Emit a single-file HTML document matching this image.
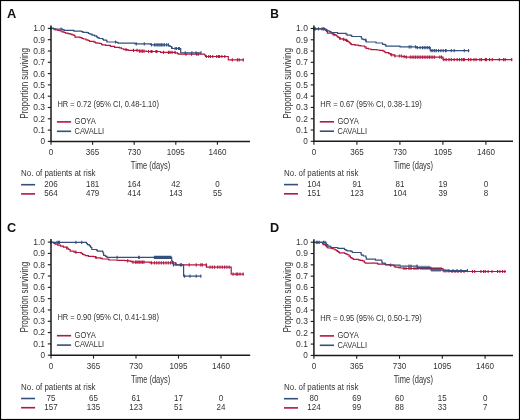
<!DOCTYPE html><html><head><meta charset="utf-8"><style>html,body{margin:0;padding:0;background:#fff;}svg{display:block;will-change:transform;}</style></head><body>
<svg width="520" height="420" viewBox="0 0 520 420" font-family='"Liberation Sans", sans-serif'>
<rect x="0" y="0" width="520" height="420" fill="#fff"/>
<text transform="translate(6.9 17.5) scale(1.07 1)" font-size="12" font-weight="bold" fill="#111">A</text>
<text transform="translate(27.6 83.4) rotate(-90)" text-anchor="middle" font-size="10.2" fill="#333333" textLength="70.5" lengthAdjust="spacingAndGlyphs">Proportion surviving</text>
<line x1="47.8" y1="141.4" x2="51" y2="141.4" stroke="#1a1a1a" stroke-width="1.1"/>
<text x="45" y="144.3" font-size="9.2" fill="#333333" text-anchor="end" textLength="4.6" lengthAdjust="spacingAndGlyphs">0</text>
<line x1="47.8" y1="130.1" x2="51" y2="130.1" stroke="#1a1a1a" stroke-width="1.1"/>
<text x="45" y="133" font-size="9.2" fill="#333333" text-anchor="end" textLength="11.8" lengthAdjust="spacingAndGlyphs">0.1</text>
<line x1="47.8" y1="118.8" x2="51" y2="118.8" stroke="#1a1a1a" stroke-width="1.1"/>
<text x="45" y="121.7" font-size="9.2" fill="#333333" text-anchor="end" textLength="11.8" lengthAdjust="spacingAndGlyphs">0.2</text>
<line x1="47.8" y1="107.5" x2="51" y2="107.5" stroke="#1a1a1a" stroke-width="1.1"/>
<text x="45" y="110.4" font-size="9.2" fill="#333333" text-anchor="end" textLength="11.8" lengthAdjust="spacingAndGlyphs">0.3</text>
<line x1="47.8" y1="96.2" x2="51" y2="96.2" stroke="#1a1a1a" stroke-width="1.1"/>
<text x="45" y="99.1" font-size="9.2" fill="#333333" text-anchor="end" textLength="11.8" lengthAdjust="spacingAndGlyphs">0.4</text>
<line x1="47.8" y1="84.9" x2="51" y2="84.9" stroke="#1a1a1a" stroke-width="1.1"/>
<text x="45" y="87.8" font-size="9.2" fill="#333333" text-anchor="end" textLength="11.8" lengthAdjust="spacingAndGlyphs">0.5</text>
<line x1="47.8" y1="73.6" x2="51" y2="73.6" stroke="#1a1a1a" stroke-width="1.1"/>
<text x="45" y="76.5" font-size="9.2" fill="#333333" text-anchor="end" textLength="11.8" lengthAdjust="spacingAndGlyphs">0.6</text>
<line x1="47.8" y1="62.3" x2="51" y2="62.3" stroke="#1a1a1a" stroke-width="1.1"/>
<text x="45" y="65.2" font-size="9.2" fill="#333333" text-anchor="end" textLength="11.8" lengthAdjust="spacingAndGlyphs">0.7</text>
<line x1="47.8" y1="51" x2="51" y2="51" stroke="#1a1a1a" stroke-width="1.1"/>
<text x="45" y="53.9" font-size="9.2" fill="#333333" text-anchor="end" textLength="11.8" lengthAdjust="spacingAndGlyphs">0.8</text>
<line x1="47.8" y1="39.7" x2="51" y2="39.7" stroke="#1a1a1a" stroke-width="1.1"/>
<text x="45" y="42.6" font-size="9.2" fill="#333333" text-anchor="end" textLength="11.8" lengthAdjust="spacingAndGlyphs">0.9</text>
<line x1="47.8" y1="28.4" x2="51" y2="28.4" stroke="#1a1a1a" stroke-width="1.1"/>
<text x="45" y="31.3" font-size="9.2" fill="#333333" text-anchor="end" textLength="11.8" lengthAdjust="spacingAndGlyphs">1.0</text>
<line x1="51" y1="141.4" x2="51" y2="144.8" stroke="#1a1a1a" stroke-width="1.1"/>
<text x="51" y="154.8" font-size="9" fill="#333333" text-anchor="middle" textLength="4.5" lengthAdjust="spacingAndGlyphs">0</text>
<line x1="92.6" y1="141.4" x2="92.6" y2="144.8" stroke="#1a1a1a" stroke-width="1.1"/>
<text x="92.6" y="154.8" font-size="9" fill="#333333" text-anchor="middle" textLength="13.5" lengthAdjust="spacingAndGlyphs">365</text>
<line x1="134.2" y1="141.4" x2="134.2" y2="144.8" stroke="#1a1a1a" stroke-width="1.1"/>
<text x="134.2" y="154.8" font-size="9" fill="#333333" text-anchor="middle" textLength="13.5" lengthAdjust="spacingAndGlyphs">730</text>
<line x1="175.8" y1="141.4" x2="175.8" y2="144.8" stroke="#1a1a1a" stroke-width="1.1"/>
<text x="175.8" y="154.8" font-size="9" fill="#333333" text-anchor="middle" textLength="18" lengthAdjust="spacingAndGlyphs">1095</text>
<line x1="217.4" y1="141.4" x2="217.4" y2="144.8" stroke="#1a1a1a" stroke-width="1.1"/>
<text x="217.4" y="154.8" font-size="9" fill="#333333" text-anchor="middle" textLength="18" lengthAdjust="spacingAndGlyphs">1460</text>
<text x="150.5" y="168.7" font-size="11" fill="#333333" text-anchor="middle" textLength="39.3" lengthAdjust="spacingAndGlyphs">Time (days)</text>
<text x="57.4" y="106.6" font-size="8.4" fill="#333333" textLength="101.5" lengthAdjust="spacingAndGlyphs">HR = 0.72 (95% CI, 0.48-1.10)</text>
<line x1="56.9" y1="121.9" x2="71.1" y2="121.9" stroke="#b3163f" stroke-width="1.6"/>
<line x1="56.9" y1="131.3" x2="71.1" y2="131.3" stroke="#33507f" stroke-width="1.6"/>
<text x="74.5" y="124.4" font-size="8.7" fill="#333333" textLength="21.3" lengthAdjust="spacingAndGlyphs">GOYA</text>
<text x="74.5" y="133.65" font-size="8.7" fill="#333333" textLength="29.7" lengthAdjust="spacingAndGlyphs">CAVALLI</text>
<text x="21.1" y="175.8" font-size="8.3" fill="#333333" textLength="74.5" lengthAdjust="spacingAndGlyphs">No. of patients at risk</text>
<line x1="21.1" y1="184.7" x2="35.1" y2="184.7" stroke="#33507f" stroke-width="1.6"/>
<line x1="21.1" y1="193.9" x2="35.1" y2="193.9" stroke="#b3163f" stroke-width="1.6"/>
<text transform="translate(51 186.8) scale(0.92 1)" font-size="8.7" fill="#333333" text-anchor="middle">206</text>
<text transform="translate(51 196.2) scale(0.92 1)" font-size="8.7" fill="#333333" text-anchor="middle">564</text>
<text transform="translate(92.6 186.8) scale(0.92 1)" font-size="8.7" fill="#333333" text-anchor="middle">181</text>
<text transform="translate(92.6 196.2) scale(0.92 1)" font-size="8.7" fill="#333333" text-anchor="middle">479</text>
<text transform="translate(134.2 186.8) scale(0.92 1)" font-size="8.7" fill="#333333" text-anchor="middle">164</text>
<text transform="translate(134.2 196.2) scale(0.92 1)" font-size="8.7" fill="#333333" text-anchor="middle">414</text>
<text transform="translate(175.8 186.8) scale(0.92 1)" font-size="8.7" fill="#333333" text-anchor="middle">42</text>
<text transform="translate(175.8 196.2) scale(0.92 1)" font-size="8.7" fill="#333333" text-anchor="middle">143</text>
<text transform="translate(217.4 186.8) scale(0.92 1)" font-size="8.7" fill="#333333" text-anchor="middle">0</text>
<text transform="translate(217.4 196.2) scale(0.92 1)" font-size="8.7" fill="#333333" text-anchor="middle">55</text>
<path d="M51 28.4H53.5V28.8H55V30H58V30.5H60V31H62V31.8H64V32.5H65.5V33.1H68V33.6H70V34.1H72V34.8H74V35.5H75V37.2H80V37.6H82V38.5H83.5V39H86V39.8H88V40.5H89.5V41.3H94V42.1H95.5V42.8H97V43.1H99.8V43.5H101.5V44.4H102V44.9H105.6V45.4H110.4V46.3H114.7V47.3H119.5V47.8H121.4V48.75H123.8V49.7H128V50.4H139.2V51.1H146.5V51.5H160.5V52.3H175.5V52.8H177.5V53.7H178.5V54.1H204.5V55H205.5V56.5H228.3V59.8H243.8" fill="none" stroke="#b3163f" stroke-width="1.2" stroke-linejoin="miter"/>
<path d="M126 48.1v3.2 M133.5 48.8v3.2 M137 48.8v3.2 M139.5 49.5v3.2 M141 49.5v3.2 M142.5 49.5v3.2 M144 49.5v3.2 M148.5 49.9v3.2 M151 49.9v3.2 M152 49.9v3.2 M156 49.9v3.2 M157 49.9v3.2 M163.5 50.7v3.2 M168.5 50.7v3.2 M170 50.7v3.2 M172 50.7v3.2 M175 50.7v3.2 M186 52.5v3.2 M191.5 52.5v3.2 M196.7 52.5v3.2 M198.3 52.5v3.2 M206.3 54.9v3.2 M208.7 54.9v3.2 M210.4 54.9v3.2 M212.7 54.9v3.2 M216.7 54.9v3.2 M218.4 54.9v3.2 M219.6 54.9v3.2 M221.9 54.9v3.2 M224.8 54.9v3.2 M232.3 58.2v3.2 M237.5 58.2v3.2 M239.2 58.2v3.2 M243.2 58.2v3.2" fill="none" stroke="#b3163f" stroke-width="1.1"/>
<path d="M51 28.4H53.5V28.8H56V29.1H62.5V29.6H64V30.3H73.5V30.8H74.5V31.2H81.5V31.6H83V32.3H87V32.7H88.5V33.5H90V34.2H92V35.1H94.5V35.8H96.5V36.8H97.5V37.6H99V38.5H102.5V39.2H103.5V40.1H106.5V40.8H107V42H116.5V42.4H118V43.2H135V43.9H150.5V44.4H151.5V44.9H168.5V45.6H170V46.5H171.5V47.5H172V48.5H180.7V52.9H201.1" fill="none" stroke="#33507f" stroke-width="1.2" stroke-linejoin="miter"/>
<path d="M51 26.8v3.2 M61.1 27.5v3.2 M115.5 40.4v3.2 M136.3 42.3v3.2 M144.3 42.3v3.2 M151.5 43.3v3.2 M154.4 43.3v3.2 M155.9 43.3v3.2 M157.3 43.3v3.2 M158.8 43.3v3.2 M160.2 43.3v3.2 M161.6 43.3v3.2 M163 43.3v3.2 M164.5 43.3v3.2 M166.6 43.3v3.2 M168.4 43.3v3.2 M171.7 45.9v3.2 M175.1 46.9v3.2 M176.5 46.9v3.2 M178.5 46.9v3.2 M179.4 46.9v3.2 M185.2 51.3v3.2 M191.9 51.3v3.2 M196 51.3v3.2 M201 51.3v3.2" fill="none" stroke="#33507f" stroke-width="1.1"/>
<path d="M51 25.4 V141.4 H250" fill="none" stroke="#1a1a1a" stroke-width="1.5"/>
<text transform="translate(270.2 17.6) scale(1.0 1)" font-size="12" font-weight="bold" fill="#111">B</text>
<text transform="translate(290.5 83.4) rotate(-90)" text-anchor="middle" font-size="10.2" fill="#333333" textLength="70.5" lengthAdjust="spacingAndGlyphs">Proportion surviving</text>
<line x1="310.7" y1="141.3" x2="313.9" y2="141.3" stroke="#1a1a1a" stroke-width="1.1"/>
<text x="307.9" y="144.2" font-size="9.2" fill="#333333" text-anchor="end" textLength="4.6" lengthAdjust="spacingAndGlyphs">0</text>
<line x1="310.7" y1="130.02" x2="313.9" y2="130.02" stroke="#1a1a1a" stroke-width="1.1"/>
<text x="307.9" y="132.92" font-size="9.2" fill="#333333" text-anchor="end" textLength="11.8" lengthAdjust="spacingAndGlyphs">0.1</text>
<line x1="310.7" y1="118.74" x2="313.9" y2="118.74" stroke="#1a1a1a" stroke-width="1.1"/>
<text x="307.9" y="121.64" font-size="9.2" fill="#333333" text-anchor="end" textLength="11.8" lengthAdjust="spacingAndGlyphs">0.2</text>
<line x1="310.7" y1="107.46" x2="313.9" y2="107.46" stroke="#1a1a1a" stroke-width="1.1"/>
<text x="307.9" y="110.36" font-size="9.2" fill="#333333" text-anchor="end" textLength="11.8" lengthAdjust="spacingAndGlyphs">0.3</text>
<line x1="310.7" y1="96.18" x2="313.9" y2="96.18" stroke="#1a1a1a" stroke-width="1.1"/>
<text x="307.9" y="99.08" font-size="9.2" fill="#333333" text-anchor="end" textLength="11.8" lengthAdjust="spacingAndGlyphs">0.4</text>
<line x1="310.7" y1="84.9" x2="313.9" y2="84.9" stroke="#1a1a1a" stroke-width="1.1"/>
<text x="307.9" y="87.8" font-size="9.2" fill="#333333" text-anchor="end" textLength="11.8" lengthAdjust="spacingAndGlyphs">0.5</text>
<line x1="310.7" y1="73.62" x2="313.9" y2="73.62" stroke="#1a1a1a" stroke-width="1.1"/>
<text x="307.9" y="76.52" font-size="9.2" fill="#333333" text-anchor="end" textLength="11.8" lengthAdjust="spacingAndGlyphs">0.6</text>
<line x1="310.7" y1="62.34" x2="313.9" y2="62.34" stroke="#1a1a1a" stroke-width="1.1"/>
<text x="307.9" y="65.24" font-size="9.2" fill="#333333" text-anchor="end" textLength="11.8" lengthAdjust="spacingAndGlyphs">0.7</text>
<line x1="310.7" y1="51.06" x2="313.9" y2="51.06" stroke="#1a1a1a" stroke-width="1.1"/>
<text x="307.9" y="53.96" font-size="9.2" fill="#333333" text-anchor="end" textLength="11.8" lengthAdjust="spacingAndGlyphs">0.8</text>
<line x1="310.7" y1="39.78" x2="313.9" y2="39.78" stroke="#1a1a1a" stroke-width="1.1"/>
<text x="307.9" y="42.68" font-size="9.2" fill="#333333" text-anchor="end" textLength="11.8" lengthAdjust="spacingAndGlyphs">0.9</text>
<line x1="310.7" y1="28.5" x2="313.9" y2="28.5" stroke="#1a1a1a" stroke-width="1.1"/>
<text x="307.9" y="31.4" font-size="9.2" fill="#333333" text-anchor="end" textLength="11.8" lengthAdjust="spacingAndGlyphs">1.0</text>
<line x1="313.9" y1="141.3" x2="313.9" y2="144.7" stroke="#1a1a1a" stroke-width="1.1"/>
<text x="313.9" y="154.7" font-size="9" fill="#333333" text-anchor="middle" textLength="4.5" lengthAdjust="spacingAndGlyphs">0</text>
<line x1="356.9" y1="141.3" x2="356.9" y2="144.7" stroke="#1a1a1a" stroke-width="1.1"/>
<text x="356.9" y="154.7" font-size="9" fill="#333333" text-anchor="middle" textLength="13.5" lengthAdjust="spacingAndGlyphs">365</text>
<line x1="399.9" y1="141.3" x2="399.9" y2="144.7" stroke="#1a1a1a" stroke-width="1.1"/>
<text x="399.9" y="154.7" font-size="9" fill="#333333" text-anchor="middle" textLength="13.5" lengthAdjust="spacingAndGlyphs">730</text>
<line x1="442.9" y1="141.3" x2="442.9" y2="144.7" stroke="#1a1a1a" stroke-width="1.1"/>
<text x="442.9" y="154.7" font-size="9" fill="#333333" text-anchor="middle" textLength="18" lengthAdjust="spacingAndGlyphs">1095</text>
<line x1="485.9" y1="141.3" x2="485.9" y2="144.7" stroke="#1a1a1a" stroke-width="1.1"/>
<text x="485.9" y="154.7" font-size="9" fill="#333333" text-anchor="middle" textLength="18" lengthAdjust="spacingAndGlyphs">1460</text>
<text x="413.45" y="168.6" font-size="11" fill="#333333" text-anchor="middle" textLength="39.3" lengthAdjust="spacingAndGlyphs">Time (days)</text>
<text x="320.3" y="106.5" font-size="8.4" fill="#333333" textLength="101.5" lengthAdjust="spacingAndGlyphs">HR = 0.67 (95% CI, 0.38-1.19)</text>
<line x1="319.8" y1="121.8" x2="334" y2="121.8" stroke="#b3163f" stroke-width="1.6"/>
<line x1="319.8" y1="131.2" x2="334" y2="131.2" stroke="#33507f" stroke-width="1.6"/>
<text x="337.4" y="124.3" font-size="8.7" fill="#333333" textLength="21.3" lengthAdjust="spacingAndGlyphs">GOYA</text>
<text x="337.4" y="133.55" font-size="8.7" fill="#333333" textLength="29.7" lengthAdjust="spacingAndGlyphs">CAVALLI</text>
<text x="284" y="175.7" font-size="8.3" fill="#333333" textLength="74.5" lengthAdjust="spacingAndGlyphs">No. of patients at risk</text>
<line x1="284" y1="184.6" x2="298" y2="184.6" stroke="#33507f" stroke-width="1.6"/>
<line x1="284" y1="193.8" x2="298" y2="193.8" stroke="#b3163f" stroke-width="1.6"/>
<text transform="translate(313.9 186.7) scale(0.92 1)" font-size="8.7" fill="#333333" text-anchor="middle">104</text>
<text transform="translate(313.9 196.1) scale(0.92 1)" font-size="8.7" fill="#333333" text-anchor="middle">151</text>
<text transform="translate(356.9 186.7) scale(0.92 1)" font-size="8.7" fill="#333333" text-anchor="middle">91</text>
<text transform="translate(356.9 196.1) scale(0.92 1)" font-size="8.7" fill="#333333" text-anchor="middle">123</text>
<text transform="translate(399.9 186.7) scale(0.92 1)" font-size="8.7" fill="#333333" text-anchor="middle">81</text>
<text transform="translate(399.9 196.1) scale(0.92 1)" font-size="8.7" fill="#333333" text-anchor="middle">104</text>
<text transform="translate(442.9 186.7) scale(0.92 1)" font-size="8.7" fill="#333333" text-anchor="middle">19</text>
<text transform="translate(442.9 196.1) scale(0.92 1)" font-size="8.7" fill="#333333" text-anchor="middle">39</text>
<text transform="translate(485.9 186.7) scale(0.92 1)" font-size="8.7" fill="#333333" text-anchor="middle">0</text>
<text transform="translate(485.9 196.1) scale(0.92 1)" font-size="8.7" fill="#333333" text-anchor="middle">8</text>
<path d="M313.9 28.8H324.5V29.3H325.5V30.5H326.5V31.5H327.4V33.1H332V33.6H333V34.6H335.5V35.1H336.5V36H337.5V36.8H338.4V37.5H339.5V38.3H340.4V38.9H343V39.4H345.2V40.3H347.6V41.3H348.5V42H349.5V42.8H350.5V43.8H351.4V44.7H355V45.2H358.5V45.6H361V46H364.5V46.8H366V48.3H368.5V49H371V49.7H377V50H379.5V50.4H383V51.2H384.5V52H385.5V52.6H388.8V53.6H390.5V54.8H394.3V56H402V56.7H406V57.1H443V59.6H512.2" fill="none" stroke="#b3163f" stroke-width="1.2" stroke-linejoin="miter"/>
<path d="M322 27.2v3.2 M334.1 33v3.2 M339.9 36.7v3.2 M343.7 37.8v3.2 M346.6 38.7v3.2 M391.7 53.2v3.2 M395 54.4v3.2 M399.3 54.4v3.2 M401.3 54.4v3.2 M404.2 55.1v3.2 M406.3 55.5v3.2 M410.3 55.5v3.2 M412.1 55.5v3.2 M413.8 55.5v3.2 M415.5 55.5v3.2 M417.3 55.5v3.2 M419 55.5v3.2 M420.7 55.5v3.2 M422.5 55.5v3.2 M424.2 55.5v3.2 M425.9 55.5v3.2 M427.7 55.5v3.2 M429.4 55.5v3.2 M431.1 55.5v3.2 M432.8 55.5v3.2 M434.6 55.5v3.2 M439.8 55.5v3.2 M441.5 55.5v3.2 M443.8 58v3.2 M446.1 58v3.2 M449 58v3.2 M451.3 58v3.2 M454.2 58v3.2 M457.1 58v3.2 M459.4 58v3.2 M461.7 58v3.2 M463.4 58v3.2 M464.3 58v3.2 M468.6 58v3.2 M470.8 58v3.2 M474 58v3.2 M476.1 58v3.2 M479.9 58v3.2 M481.5 58v3.2 M485.3 58v3.2 M486.4 58v3.2 M489.6 58v3.2 M492.3 58v3.2 M499.3 58v3.2 M503.6 58v3.2 M505.2 58v3.2 M511.7 58v3.2" fill="none" stroke="#b3163f" stroke-width="1.1"/>
<path d="M313.9 28.8H325V29.3H326.5V30.2H327.5V30.8H329.5V31.6H331V32.5H337.5V33.3H346V34.2H347V35.1H351.2V35.6H351.8V36.5H361.3V38H361.9V39.1H363.5V39.6H365.5V40.1H366.2V42H376V43H382.6V44.4H385V44.9H385.9V46.2H400V46.8H416.5V47.7H430.3V50.6H469.2" fill="none" stroke="#33507f" stroke-width="1.2" stroke-linejoin="miter"/>
<path d="M314 27.2v3.2 M315.5 27.2v3.2 M318.5 27.2v3.2 M323.3 27.2v3.2 M324 27.2v3.2 M365.7 38.5v3.2 M409.2 45.2v3.2 M411 45.2v3.2 M415.5 45.2v3.2 M417.3 46.1v3.2 M420.1 46.1v3.2 M422.5 46.1v3.2 M424.2 46.1v3.2 M425.9 46.1v3.2 M427.7 46.1v3.2 M429.4 46.1v3.2 M431.1 49v3.2 M432.8 49v3.2 M434.6 49v3.2 M436.3 49v3.2 M438.6 49v3.2 M440.9 49v3.2 M443.2 49v3.2 M445.5 49v3.2 M446.1 49v3.2 M451.3 49v3.2 M454.2 49v3.2 M464.3 49v3.2 M468.6 49v3.2" fill="none" stroke="#33507f" stroke-width="1.1"/>
<path d="M313.9 25.5 V141.3 H513" fill="none" stroke="#1a1a1a" stroke-width="1.5"/>
<text transform="translate(6.9 231.8) scale(1.06 1)" font-size="12" font-weight="bold" fill="#111">C</text>
<text transform="translate(27.6 297.15) rotate(-90)" text-anchor="middle" font-size="10.2" fill="#333333" textLength="70.5" lengthAdjust="spacingAndGlyphs">Proportion surviving</text>
<line x1="47.8" y1="355.2" x2="51" y2="355.2" stroke="#1a1a1a" stroke-width="1.1"/>
<text x="45" y="358.1" font-size="9.2" fill="#333333" text-anchor="end" textLength="4.6" lengthAdjust="spacingAndGlyphs">0</text>
<line x1="47.8" y1="343.89" x2="51" y2="343.89" stroke="#1a1a1a" stroke-width="1.1"/>
<text x="45" y="346.79" font-size="9.2" fill="#333333" text-anchor="end" textLength="11.8" lengthAdjust="spacingAndGlyphs">0.1</text>
<line x1="47.8" y1="332.58" x2="51" y2="332.58" stroke="#1a1a1a" stroke-width="1.1"/>
<text x="45" y="335.48" font-size="9.2" fill="#333333" text-anchor="end" textLength="11.8" lengthAdjust="spacingAndGlyphs">0.2</text>
<line x1="47.8" y1="321.27" x2="51" y2="321.27" stroke="#1a1a1a" stroke-width="1.1"/>
<text x="45" y="324.17" font-size="9.2" fill="#333333" text-anchor="end" textLength="11.8" lengthAdjust="spacingAndGlyphs">0.3</text>
<line x1="47.8" y1="309.96" x2="51" y2="309.96" stroke="#1a1a1a" stroke-width="1.1"/>
<text x="45" y="312.86" font-size="9.2" fill="#333333" text-anchor="end" textLength="11.8" lengthAdjust="spacingAndGlyphs">0.4</text>
<line x1="47.8" y1="298.65" x2="51" y2="298.65" stroke="#1a1a1a" stroke-width="1.1"/>
<text x="45" y="301.55" font-size="9.2" fill="#333333" text-anchor="end" textLength="11.8" lengthAdjust="spacingAndGlyphs">0.5</text>
<line x1="47.8" y1="287.34" x2="51" y2="287.34" stroke="#1a1a1a" stroke-width="1.1"/>
<text x="45" y="290.24" font-size="9.2" fill="#333333" text-anchor="end" textLength="11.8" lengthAdjust="spacingAndGlyphs">0.6</text>
<line x1="47.8" y1="276.03" x2="51" y2="276.03" stroke="#1a1a1a" stroke-width="1.1"/>
<text x="45" y="278.93" font-size="9.2" fill="#333333" text-anchor="end" textLength="11.8" lengthAdjust="spacingAndGlyphs">0.7</text>
<line x1="47.8" y1="264.72" x2="51" y2="264.72" stroke="#1a1a1a" stroke-width="1.1"/>
<text x="45" y="267.62" font-size="9.2" fill="#333333" text-anchor="end" textLength="11.8" lengthAdjust="spacingAndGlyphs">0.8</text>
<line x1="47.8" y1="253.41" x2="51" y2="253.41" stroke="#1a1a1a" stroke-width="1.1"/>
<text x="45" y="256.31" font-size="9.2" fill="#333333" text-anchor="end" textLength="11.8" lengthAdjust="spacingAndGlyphs">0.9</text>
<line x1="47.8" y1="242.1" x2="51" y2="242.1" stroke="#1a1a1a" stroke-width="1.1"/>
<text x="45" y="245" font-size="9.2" fill="#333333" text-anchor="end" textLength="11.8" lengthAdjust="spacingAndGlyphs">1.0</text>
<line x1="51" y1="355.2" x2="51" y2="358.6" stroke="#1a1a1a" stroke-width="1.1"/>
<text x="51" y="368.6" font-size="9" fill="#333333" text-anchor="middle" textLength="4.5" lengthAdjust="spacingAndGlyphs">0</text>
<line x1="93.5" y1="355.2" x2="93.5" y2="358.6" stroke="#1a1a1a" stroke-width="1.1"/>
<text x="93.5" y="368.6" font-size="9" fill="#333333" text-anchor="middle" textLength="13.5" lengthAdjust="spacingAndGlyphs">365</text>
<line x1="136" y1="355.2" x2="136" y2="358.6" stroke="#1a1a1a" stroke-width="1.1"/>
<text x="136" y="368.6" font-size="9" fill="#333333" text-anchor="middle" textLength="13.5" lengthAdjust="spacingAndGlyphs">730</text>
<line x1="178.5" y1="355.2" x2="178.5" y2="358.6" stroke="#1a1a1a" stroke-width="1.1"/>
<text x="178.5" y="368.6" font-size="9" fill="#333333" text-anchor="middle" textLength="18" lengthAdjust="spacingAndGlyphs">1095</text>
<line x1="221" y1="355.2" x2="221" y2="358.6" stroke="#1a1a1a" stroke-width="1.1"/>
<text x="221" y="368.6" font-size="9" fill="#333333" text-anchor="middle" textLength="18" lengthAdjust="spacingAndGlyphs">1460</text>
<text x="150.6" y="382.5" font-size="11" fill="#333333" text-anchor="middle" textLength="39.3" lengthAdjust="spacingAndGlyphs">Time (days)</text>
<text x="57.4" y="320.4" font-size="8.4" fill="#333333" textLength="101.5" lengthAdjust="spacingAndGlyphs">HR = 0.90 (95% CI, 0.41-1.98)</text>
<line x1="56.9" y1="335.7" x2="71.1" y2="335.7" stroke="#b3163f" stroke-width="1.6"/>
<line x1="56.9" y1="345.1" x2="71.1" y2="345.1" stroke="#33507f" stroke-width="1.6"/>
<text x="74.5" y="338.2" font-size="8.7" fill="#333333" textLength="21.3" lengthAdjust="spacingAndGlyphs">GOYA</text>
<text x="74.5" y="347.45" font-size="8.7" fill="#333333" textLength="29.7" lengthAdjust="spacingAndGlyphs">CAVALLI</text>
<text x="21.1" y="389.6" font-size="8.3" fill="#333333" textLength="74.5" lengthAdjust="spacingAndGlyphs">No. of patients at risk</text>
<line x1="21.1" y1="398.5" x2="35.1" y2="398.5" stroke="#33507f" stroke-width="1.6"/>
<line x1="21.1" y1="407.7" x2="35.1" y2="407.7" stroke="#b3163f" stroke-width="1.6"/>
<text transform="translate(51 400.6) scale(0.92 1)" font-size="8.7" fill="#333333" text-anchor="middle">75</text>
<text transform="translate(51 410) scale(0.92 1)" font-size="8.7" fill="#333333" text-anchor="middle">157</text>
<text transform="translate(93.5 400.6) scale(0.92 1)" font-size="8.7" fill="#333333" text-anchor="middle">65</text>
<text transform="translate(93.5 410) scale(0.92 1)" font-size="8.7" fill="#333333" text-anchor="middle">135</text>
<text transform="translate(136 400.6) scale(0.92 1)" font-size="8.7" fill="#333333" text-anchor="middle">61</text>
<text transform="translate(136 410) scale(0.92 1)" font-size="8.7" fill="#333333" text-anchor="middle">123</text>
<text transform="translate(178.5 400.6) scale(0.92 1)" font-size="8.7" fill="#333333" text-anchor="middle">17</text>
<text transform="translate(178.5 410) scale(0.92 1)" font-size="8.7" fill="#333333" text-anchor="middle">51</text>
<text transform="translate(221 400.6) scale(0.92 1)" font-size="8.7" fill="#333333" text-anchor="middle">0</text>
<text transform="translate(221 410) scale(0.92 1)" font-size="8.7" fill="#333333" text-anchor="middle">24</text>
<path d="M51 242.4H53.8V243.3H55.2V244.2H57.6V245.1H60.5V246.1H63.4V247.1H66.8V248H68V248.8H68.7V249.5H70.1V251.2H74V252.2H76V252.5H80.7V252.8H81.7V253.5H82.6V254.3H84V255H85.5V255.7H88.4V256.4H93.2V256.7H95.5V257.5H96.5V257.9H100.7V258.3H102.2V259H107.5V259.2H108.9V260H117.1V260.4H124.8V260.7H127.7V260.9H130.5V261.3H132V262.2H150V262.9H175.5V263.8H176.2V264.9H206.5V267.2H231.2V274.2H243.8" fill="none" stroke="#b3163f" stroke-width="1.2" stroke-linejoin="miter"/>
<path d="M66.8 246.4v3.2 M75.9 250.6v3.2 M95.9 255.9v3.2 M127.7 259.3v3.2 M133 260.6v3.2 M135.4 260.6v3.2 M136.8 260.6v3.2 M138.2 260.6v3.2 M139.7 260.6v3.2 M141.1 260.6v3.2 M142.6 260.6v3.2 M144 260.6v3.2 M151.5 261.3v3.2 M154.4 261.3v3.2 M156.7 261.3v3.2 M159 261.3v3.2 M161.3 261.3v3.2 M163.6 261.3v3.2 M166 261.3v3.2 M168.3 261.3v3.2 M170.6 261.3v3.2 M173.4 261.3v3.2 M175.8 262.2v3.2 M189.2 263.3v3.2 M196.2 263.3v3.2 M200.8 263.3v3.2 M202.3 263.3v3.2 M206.2 263.3v3.2 M210 265.6v3.2 M212.3 265.6v3.2 M214.6 265.6v3.2 M217.7 265.6v3.2 M220 265.6v3.2 M222.3 265.6v3.2 M224.6 265.6v3.2 M226.9 265.6v3.2 M229.2 265.6v3.2 M233.1 272.6v3.2 M236.2 272.6v3.2 M237.7 272.6v3.2 M240 272.6v3.2 M243.1 272.6v3.2" fill="none" stroke="#b3163f" stroke-width="1.1"/>
<path d="M51 242.4H86.5V243.5H87.4V244.7H89.3V245.6H90.3V246.5H90.8V247.5H91.8V249.5H96.5V250.2H97.4V251.1H102.7V252H103.1V253H103.6V255.4H105.5V256.3H107V257.3H171.7V261.1H172.5V263.5H173.4V264.8H183.6V276.2H201.2" fill="none" stroke="#33507f" stroke-width="1.2" stroke-linejoin="miter"/>
<path d="M51 240.8v3.2 M57.1 240.8v3.2 M58.6 240.8v3.2 M59.5 240.8v3.2 M75.9 240.8v3.2 M81.7 240.8v3.2 M117.1 255.7v3.2 M138.7 255.7v3.2 M139.2 255.7v3.2 M154.4 255.7v3.2 M155.5 255.7v3.2 M156.6 255.7v3.2 M157.7 255.7v3.2 M158.8 255.7v3.2 M159.9 255.7v3.2 M161 255.7v3.2 M162.1 255.7v3.2 M163.2 255.7v3.2 M164.3 255.7v3.2 M165.4 255.7v3.2 M166.5 255.7v3.2 M167.6 255.7v3.2 M168.7 255.7v3.2 M169.8 255.7v3.2 M170.9 255.7v3.2 M173.4 263.2v3.2 M180.4 263.2v3.2 M181.5 263.2v3.2 M184.6 274.6v3.2 M190 274.6v3.2 M196.2 274.6v3.2 M200.8 274.6v3.2" fill="none" stroke="#33507f" stroke-width="1.1"/>
<path d="M51 239.1 V355.2 H250.2" fill="none" stroke="#1a1a1a" stroke-width="1.5"/>
<text transform="translate(270.1 231.8) scale(1.06 1)" font-size="12" font-weight="bold" fill="#111">D</text>
<text transform="translate(290.5 297.3) rotate(-90)" text-anchor="middle" font-size="10.2" fill="#333333" textLength="70.5" lengthAdjust="spacingAndGlyphs">Proportion surviving</text>
<line x1="310.7" y1="355.4" x2="313.9" y2="355.4" stroke="#1a1a1a" stroke-width="1.1"/>
<text x="307.9" y="358.3" font-size="9.2" fill="#333333" text-anchor="end" textLength="4.6" lengthAdjust="spacingAndGlyphs">0</text>
<line x1="310.7" y1="344.08" x2="313.9" y2="344.08" stroke="#1a1a1a" stroke-width="1.1"/>
<text x="307.9" y="346.98" font-size="9.2" fill="#333333" text-anchor="end" textLength="11.8" lengthAdjust="spacingAndGlyphs">0.1</text>
<line x1="310.7" y1="332.76" x2="313.9" y2="332.76" stroke="#1a1a1a" stroke-width="1.1"/>
<text x="307.9" y="335.66" font-size="9.2" fill="#333333" text-anchor="end" textLength="11.8" lengthAdjust="spacingAndGlyphs">0.2</text>
<line x1="310.7" y1="321.44" x2="313.9" y2="321.44" stroke="#1a1a1a" stroke-width="1.1"/>
<text x="307.9" y="324.34" font-size="9.2" fill="#333333" text-anchor="end" textLength="11.8" lengthAdjust="spacingAndGlyphs">0.3</text>
<line x1="310.7" y1="310.12" x2="313.9" y2="310.12" stroke="#1a1a1a" stroke-width="1.1"/>
<text x="307.9" y="313.02" font-size="9.2" fill="#333333" text-anchor="end" textLength="11.8" lengthAdjust="spacingAndGlyphs">0.4</text>
<line x1="310.7" y1="298.8" x2="313.9" y2="298.8" stroke="#1a1a1a" stroke-width="1.1"/>
<text x="307.9" y="301.7" font-size="9.2" fill="#333333" text-anchor="end" textLength="11.8" lengthAdjust="spacingAndGlyphs">0.5</text>
<line x1="310.7" y1="287.48" x2="313.9" y2="287.48" stroke="#1a1a1a" stroke-width="1.1"/>
<text x="307.9" y="290.38" font-size="9.2" fill="#333333" text-anchor="end" textLength="11.8" lengthAdjust="spacingAndGlyphs">0.6</text>
<line x1="310.7" y1="276.16" x2="313.9" y2="276.16" stroke="#1a1a1a" stroke-width="1.1"/>
<text x="307.9" y="279.06" font-size="9.2" fill="#333333" text-anchor="end" textLength="11.8" lengthAdjust="spacingAndGlyphs">0.7</text>
<line x1="310.7" y1="264.84" x2="313.9" y2="264.84" stroke="#1a1a1a" stroke-width="1.1"/>
<text x="307.9" y="267.74" font-size="9.2" fill="#333333" text-anchor="end" textLength="11.8" lengthAdjust="spacingAndGlyphs">0.8</text>
<line x1="310.7" y1="253.52" x2="313.9" y2="253.52" stroke="#1a1a1a" stroke-width="1.1"/>
<text x="307.9" y="256.42" font-size="9.2" fill="#333333" text-anchor="end" textLength="11.8" lengthAdjust="spacingAndGlyphs">0.9</text>
<line x1="310.7" y1="242.2" x2="313.9" y2="242.2" stroke="#1a1a1a" stroke-width="1.1"/>
<text x="307.9" y="245.1" font-size="9.2" fill="#333333" text-anchor="end" textLength="11.8" lengthAdjust="spacingAndGlyphs">1.0</text>
<line x1="313.9" y1="355.4" x2="313.9" y2="358.8" stroke="#1a1a1a" stroke-width="1.1"/>
<text x="313.9" y="368.8" font-size="9" fill="#333333" text-anchor="middle" textLength="4.5" lengthAdjust="spacingAndGlyphs">0</text>
<line x1="356.7" y1="355.4" x2="356.7" y2="358.8" stroke="#1a1a1a" stroke-width="1.1"/>
<text x="356.7" y="368.8" font-size="9" fill="#333333" text-anchor="middle" textLength="13.5" lengthAdjust="spacingAndGlyphs">365</text>
<line x1="399.5" y1="355.4" x2="399.5" y2="358.8" stroke="#1a1a1a" stroke-width="1.1"/>
<text x="399.5" y="368.8" font-size="9" fill="#333333" text-anchor="middle" textLength="13.5" lengthAdjust="spacingAndGlyphs">730</text>
<line x1="442.3" y1="355.4" x2="442.3" y2="358.8" stroke="#1a1a1a" stroke-width="1.1"/>
<text x="442.3" y="368.8" font-size="9" fill="#333333" text-anchor="middle" textLength="18" lengthAdjust="spacingAndGlyphs">1095</text>
<line x1="485.1" y1="355.4" x2="485.1" y2="358.8" stroke="#1a1a1a" stroke-width="1.1"/>
<text x="485.1" y="368.8" font-size="9" fill="#333333" text-anchor="middle" textLength="18" lengthAdjust="spacingAndGlyphs">1460</text>
<text x="413.45" y="382.7" font-size="11" fill="#333333" text-anchor="middle" textLength="39.3" lengthAdjust="spacingAndGlyphs">Time (days)</text>
<text x="320.3" y="320.6" font-size="8.4" fill="#333333" textLength="101.5" lengthAdjust="spacingAndGlyphs">HR = 0.95 (95% CI, 0.50-1.79)</text>
<line x1="319.8" y1="335.9" x2="334" y2="335.9" stroke="#b3163f" stroke-width="1.6"/>
<line x1="319.8" y1="345.3" x2="334" y2="345.3" stroke="#33507f" stroke-width="1.6"/>
<text x="337.4" y="338.4" font-size="8.7" fill="#333333" textLength="21.3" lengthAdjust="spacingAndGlyphs">GOYA</text>
<text x="337.4" y="347.65" font-size="8.7" fill="#333333" textLength="29.7" lengthAdjust="spacingAndGlyphs">CAVALLI</text>
<text x="284" y="389.8" font-size="8.3" fill="#333333" textLength="74.5" lengthAdjust="spacingAndGlyphs">No. of patients at risk</text>
<line x1="284" y1="398.7" x2="298" y2="398.7" stroke="#33507f" stroke-width="1.6"/>
<line x1="284" y1="407.9" x2="298" y2="407.9" stroke="#b3163f" stroke-width="1.6"/>
<text transform="translate(313.9 400.8) scale(0.92 1)" font-size="8.7" fill="#333333" text-anchor="middle">80</text>
<text transform="translate(313.9 410.2) scale(0.92 1)" font-size="8.7" fill="#333333" text-anchor="middle">124</text>
<text transform="translate(356.7 400.8) scale(0.92 1)" font-size="8.7" fill="#333333" text-anchor="middle">69</text>
<text transform="translate(356.7 410.2) scale(0.92 1)" font-size="8.7" fill="#333333" text-anchor="middle">99</text>
<text transform="translate(399.5 400.8) scale(0.92 1)" font-size="8.7" fill="#333333" text-anchor="middle">60</text>
<text transform="translate(399.5 410.2) scale(0.92 1)" font-size="8.7" fill="#333333" text-anchor="middle">88</text>
<text transform="translate(442.3 400.8) scale(0.92 1)" font-size="8.7" fill="#333333" text-anchor="middle">15</text>
<text transform="translate(442.3 410.2) scale(0.92 1)" font-size="8.7" fill="#333333" text-anchor="middle">33</text>
<text transform="translate(485.1 400.8) scale(0.92 1)" font-size="8.7" fill="#333333" text-anchor="middle">0</text>
<text transform="translate(485.1 410.2) scale(0.92 1)" font-size="8.7" fill="#333333" text-anchor="middle">7</text>
<path d="M313.9 242.4H322.5V243.5H323V244.7H325.4V245.6H326.5V246.8H327.8V248H331.2V248.5H333.1V249H335V250H336.5V250.7H337.4V251.4H338.5V252.1H339.4V252.8H344.7V253.5H346V254.2H347.5V254.75H349V256.2H350.4V257.6H352V258.5H353.3V259.3H358.5V259.9H360V260.3H362.3V260.8H364.2V262H364.7V262.75H365.7V263.2H377.5V263.8H378.2V264.2H385.5V264.7H389.7V265.2H394V266.1H395V267.1H398.3V267.6H400.3V268H403.2V268.5H443V270.8H450V271.5H506" fill="none" stroke="#b3163f" stroke-width="1.2" stroke-linejoin="miter"/>
<path d="M390.7 263.6v3.2 M404 266.9v3.2 M406 266.9v3.2 M409 266.9v3.2 M411 266.9v3.2 M414 266.9v3.2 M416 266.9v3.2 M418 266.9v3.2 M421 266.9v3.2 M423 266.9v3.2 M425 266.9v3.2 M427 266.9v3.2 M429 266.9v3.2 M431 266.9v3.2 M433 266.9v3.2 M435 266.9v3.2 M437 266.9v3.2 M439 266.9v3.2 M441 266.9v3.2 M444 269.2v3.2 M446 269.2v3.2 M449 269.2v3.2 M452 269.9v3.2 M455 269.9v3.2 M458 269.9v3.2 M461 269.9v3.2 M464 269.9v3.2 M472.5 269.9v3.2 M474.7 269.9v3.2 M480.9 269.9v3.2 M483.6 269.9v3.2 M485.3 269.9v3.2 M488.1 269.9v3.2 M492 269.9v3.2 M497.6 269.9v3.2 M499.8 269.9v3.2 M502.6 269.9v3.2 M504.8 269.9v3.2" fill="none" stroke="#b3163f" stroke-width="1.1"/>
<path d="M313.9 242.4H326V243.5H326.5V244.7H327.8V246.1H330.2V247.1H331.5V247.5H337.8V248.3H344.5V249.5H346V250.3H347.1V250.9H351V251.4H352.3V252.5H361V254H361.5V255.1H363.3V256H366V257.5H366.3V259.2H375.5V260.2H381.8V262H382.2V263.2H384.9V264.2H385.8V265H393.5V265.2H400V266.1H417.5V267.3H431V270.2H445V270.6H467.8" fill="none" stroke="#33507f" stroke-width="1.2" stroke-linejoin="miter"/>
<path d="M316.3 240.8v3.2 M317.7 240.8v3.2 M319.2 240.8v3.2 M323.5 240.8v3.2 M325 240.8v3.2 M409 264.5v3.2 M411 264.5v3.2 M417 264.5v3.2 M419 265.7v3.2 M421 265.7v3.2 M423 265.7v3.2 M425 265.7v3.2 M427 265.7v3.2 M429 265.7v3.2 M432 268.6v3.2 M434 268.6v3.2 M436 268.6v3.2 M438 268.6v3.2 M440 268.6v3.2 M448 269v3.2 M453 269v3.2 M457 269v3.2 M461 269v3.2 M467.5 269v3.2" fill="none" stroke="#33507f" stroke-width="1.1"/>
<path d="M313.9 239.2 V355.4 H513" fill="none" stroke="#1a1a1a" stroke-width="1.5"/>
<rect x="0.5" y="0.5" width="519" height="419" fill="none" stroke="#000" stroke-width="1.2"/>
</svg></body></html>
